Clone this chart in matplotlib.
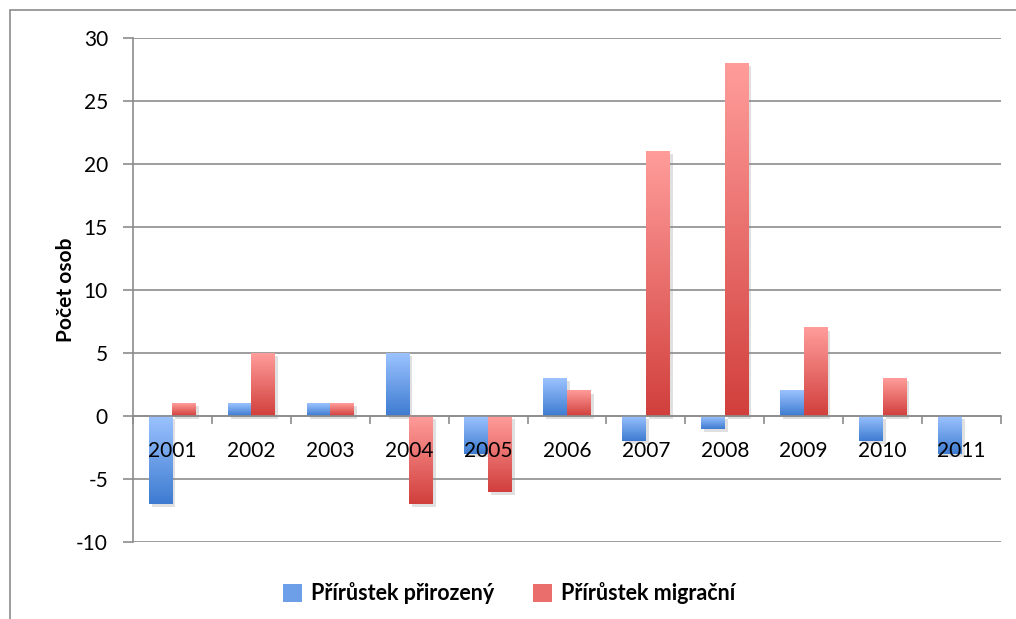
import numpy as np
import matplotlib
matplotlib.use('Agg')
import matplotlib.pyplot as plt
from matplotlib.colors import LinearSegmentedColormap
from matplotlib.patches import Rectangle
import matplotlib.transforms as mtransforms

plt.rcParams['font.family'] = ['Lato', 'DejaVu Sans']
plt.rcParams['axes.unicode_minus'] = False

# Data ---------------------------------------------------------------------------------------------
years = ['2001', '2002', '2003', '2004', '2005', '2006', '2007', '2008', '2009', '2010', '2011']
natural = [-7, 1, 1, 5, -3, 3, -2, -1, 2, -2, -3]
migration = [1, 5, 1, -7, -6, 2, 21, 28, 7, 3, 0]
series_names = ['Přírůstek přirozený', 'Přírůstek migrační']

# light (top) -> dark (bottom)
blue_cm = LinearSegmentedColormap.from_list('b', ['#3d7bd0', '#9cc3ff'])
red_cm = LinearSegmentedColormap.from_list('r', ['#d13f3c', '#ff9d9b'])

fig = plt.figure(figsize=(10.16, 6.19), dpi=100)
ax = fig.add_axes([133 / 1016, 1 - 542 / 619, 868 / 1016, 504 / 619])

# outer chart frame
fig.patches.append(Rectangle((10 / 1016, -0.1), 1.2, 1 - 10 / 619 + 0.1, transform=fig.transFigure,
                             fill=False, edgecolor='#8c8c8c', linewidth=1.2))

x = np.arange(len(years))
w = 0.3
grad = np.linspace(0, 1, 256).reshape(-1, 1)
shadow_tr = mtransforms.offset_copy(ax.transData, fig=fig, x=3, y=-3, units='dots')


def draw_bars(vals, offset, cmap):
    for xi, v in zip(x, vals):
        if v == 0:
            continue
        x0 = xi + offset
        lo, hi = min(0, v), max(0, v)
        ax.add_patch(Rectangle((x0, lo), w, hi - lo, transform=shadow_tr, facecolor='#000000',
                               alpha=0.12, edgecolor='none', zorder=0.5))
        ax.imshow(grad, cmap=cmap, aspect='auto', origin='lower', extent=[x0, x0 + w, lo, hi],
                  zorder=1, interpolation='bicubic')


draw_bars(natural, -w, blue_cm)
draw_bars(migration, 0, red_cm)

ax.set_xlim(-0.5, len(years) - 0.5)
ax.set_ylim(-10, 30)
ax.set_yticks(range(-10, 31, 5))
ax.yaxis.grid(True, color='#8c8c8c', linewidth=1.2, zorder=0)
ax.set_axisbelow(True)
ax.xaxis.set_zorder(5)  # year labels sit on top of the bars

# category axis at zero
ax.spines['bottom'].set_position(('data', 0))
ax.spines['bottom'].set_color('#8c8c8c')
ax.spines['bottom'].set_linewidth(1.2)
ax.spines['bottom'].set_zorder(3)
ax.spines['left'].set_color('#8c8c8c')
ax.spines['left'].set_linewidth(1.2)
ax.spines['top'].set_visible(False)
ax.spines['right'].set_visible(False)

ax.set_xticks(np.arange(-0.5, len(years), 1.0))
ax.set_xticklabels([])
ax.set_xticks(x, minor=True)
ax.set_xticklabels(years, minor=True, fontsize=15)
ax.tick_params(axis='x', which='major', length=6, width=1.2, color='#8c8c8c', direction='out')
ax.tick_params(axis='x', which='minor', length=0, pad=18)
ax.tick_params(axis='y', length=7, width=1.2, color='#8c8c8c', labelsize=15, pad=11)

ax.set_ylabel('Počet osob', fontsize=15, fontweight='bold', labelpad=0)

# legend swatches
handles = [Rectangle((0, 0), 1, 1, facecolor='#6c9fe8', edgecolor='none'),
           Rectangle((0, 0), 1, 1, facecolor='#ea6e6c', edgecolor='none')]
leg = fig.legend(handles, series_names, loc='center', bbox_to_anchor=(0.501, 0.042), ncol=2,
                 frameon=False, prop={'weight': 'bold', 'size': 15.5}, handlelength=0.9,
                 handleheight=0.9, handletextpad=0.4, columnspacing=1.8)

fig.savefig('out.png', dpi=100)
